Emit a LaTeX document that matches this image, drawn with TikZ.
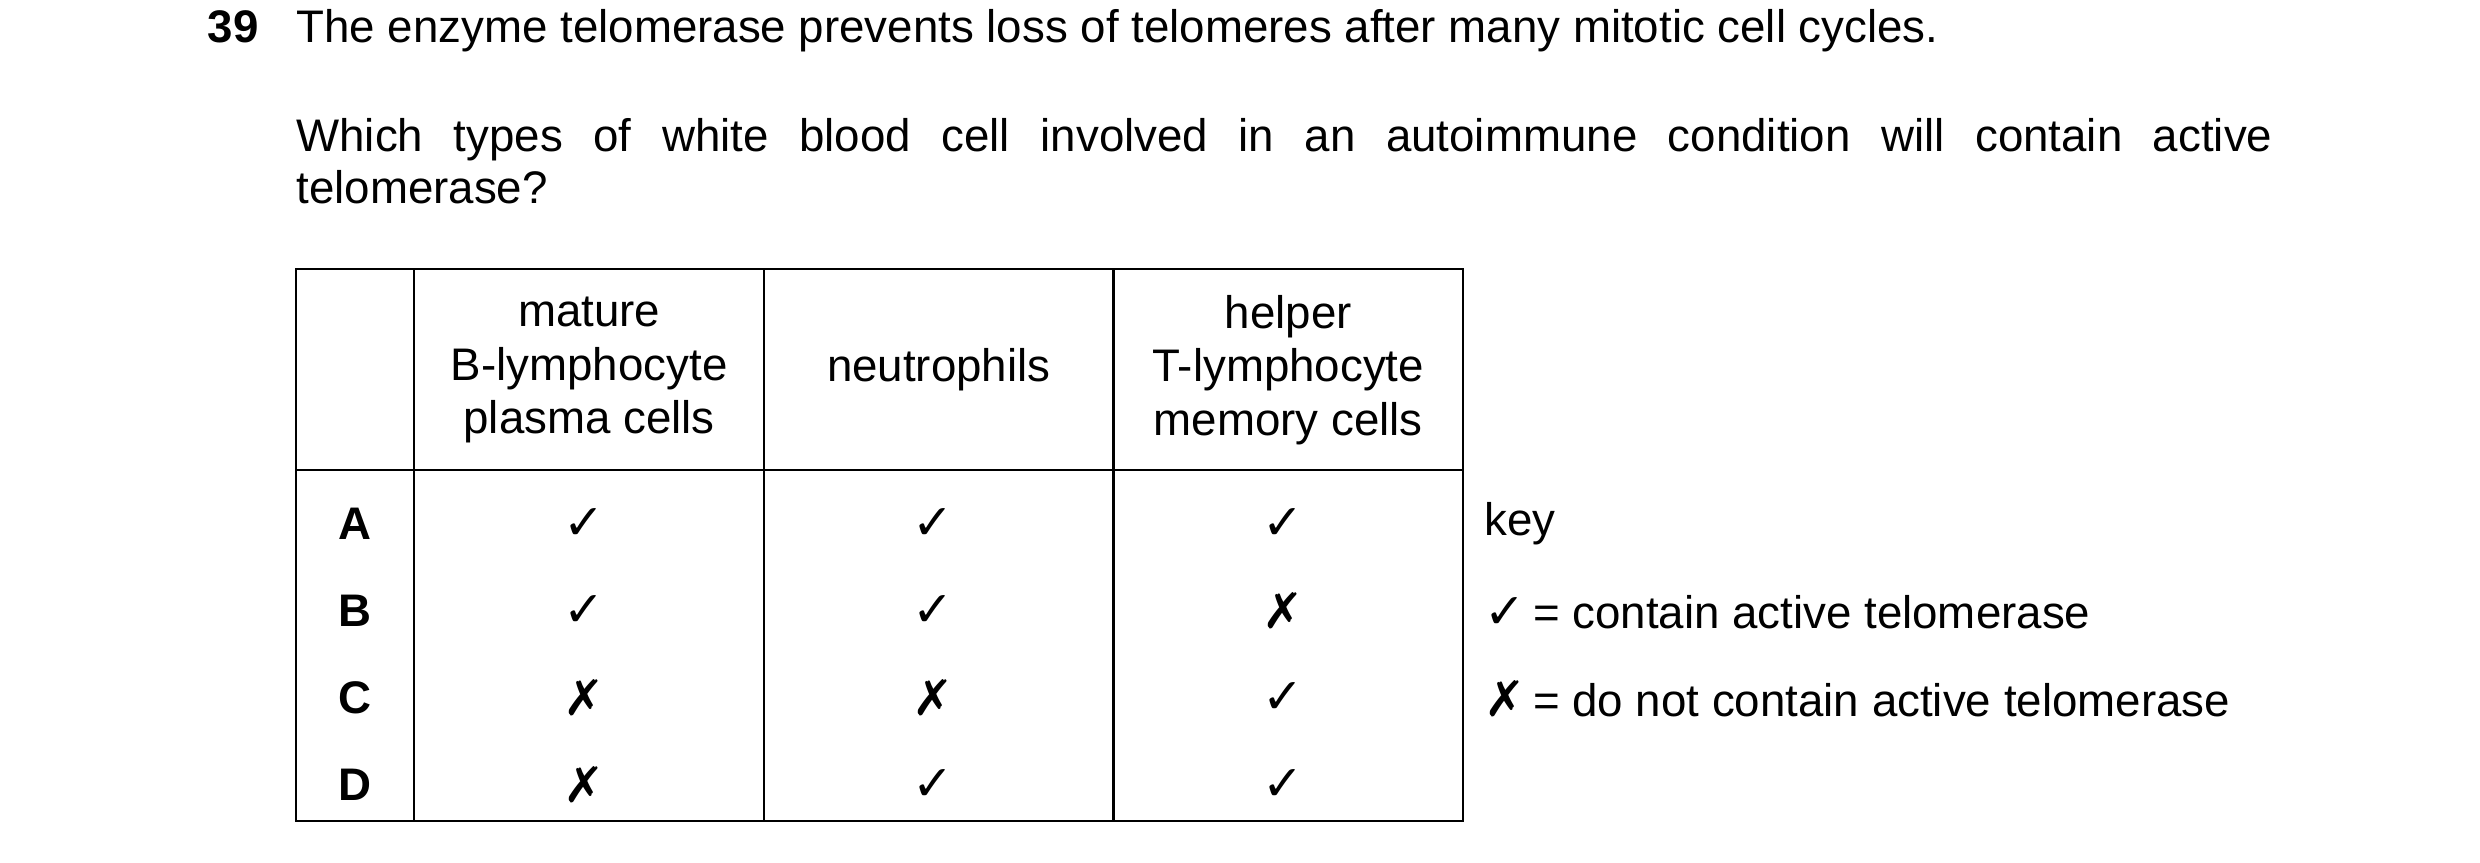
\documentclass[tikz,border=0pt]{standalone}
\usepackage{fontspec}
\setmainfont{Liberation Sans}
\newfontfamily\symf{DejaVu Sans}
\begin{document}
\begin{tikzpicture}[x=0.015816cm,y=-0.015816cm,
  txt/.style={inner sep=0pt,font=\fontsize{13}{15}\selectfont},
  cell/.style={txt,align=center,font=\fontsize{13}{15.2}\selectfont},
  mk/.style={inner sep=0pt,font=\symf\fontsize{14}{15}\selectfont},
  ln/.style={line width=0.6pt}]
\useasboundingbox (0,0) rectangle (1568,545);
\node[txt,anchor=base west,font=\bfseries\fontsize{13}{15}\selectfont] (num) at (131,27) {39};
\node[txt,anchor=base west] (q1) at (187,27) {The enzyme telomerase prevents loss of telomeres after many mitotic cell cycles.};
\node[txt,anchor=base west,text width=19.77cm,align=justify,font=\fontsize{13}{14.8}\selectfont] (q2) at (187,96) {Which types of white blood cell involved in an autoimmune condition will contain active\linebreak telomerase?};
\draw[ln] (187,170) rectangle (925,519);
\foreach \x in {262,483,704} \draw[ln] (\x,170) -- (\x,519);
\draw[ln] (187,297) -- (925,297);
\node[cell] (h1) at (372.5,234) {mature\\B-lymphocyte\\plasma cells};
\node[cell] (h2) at (593.5,234) {neutrophils};
\node[cell] (h3) at (814.5,234) {helper\\T-lymphocyte\\memory cells};
\foreach \l/\y/\a/\b/\c in {A/331/✓/✓/✓, B/386/✓/✓/✗, C/441/✗/✗/✓, D/496/✗/✓/✓}{
  \node[txt,font=\bfseries\fontsize{13}{15}\selectfont] (r\l) at (224.5,\y) {\l};
  \node[mk] (a\l) at (369,\y) {\a};
  \node[mk] (b\l) at (590,\y) {\b};
  \node[mk] (c\l) at (811,\y) {\c};
}
\node[txt,anchor=west] (key) at (938,331) {key};
\node[txt,anchor=west] (k1) at (938,387) {{\symf\fontsize{14}{15}\selectfont ✓}\,= contain active telomerase};
\node[txt,anchor=west] (k2) at (938,442) {{\symf\fontsize{14}{15}\selectfont ✗}\,= do not contain active telomerase};
\end{tikzpicture}
\end{document}
